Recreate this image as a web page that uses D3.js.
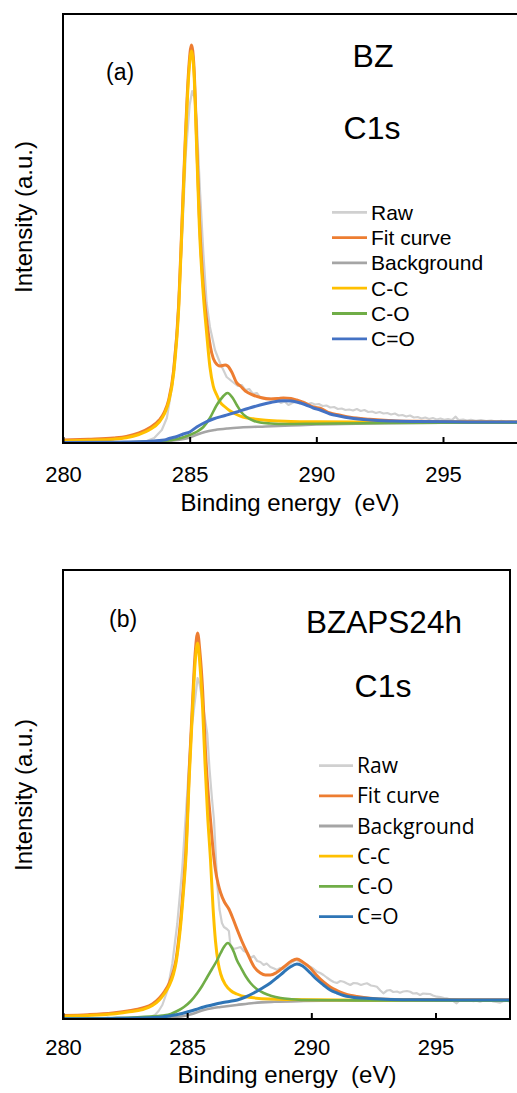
<!DOCTYPE html>
<html><head><meta charset="utf-8">
<script src="https://cdn.jsdelivr.net/npm/d3@7"></script>
<style>
body{margin:0;background:#fff}
svg{display:block}
text{font-family:"Liberation Sans",Arial,sans-serif;fill:#000}
</style>
</head><body>
<svg id="c" width="517" height="1093"></svg>
<script>
// ---------------- DATA ----------------
const xTicks = [280, 285, 290, 295];
const seriesNames = ["Raw", "Fit curve", "Background", "C-C", "C-O", "C=O"];

// Panel (a) BZ  — [binding energy (eV), intensity (a.u.)]
const a_raw = [[280,0.8],[280.4,0.3],[280.8,1.0],[281.2,0.4],[281.6,0.9],[282,0.5],[282.4,1.1],[282.8,0.7],[283.1,1.3],[283.3,2],[283.6,5],[283.9,13],[284.1,25],[284.3,56],[284.5,115],[284.7,205],[284.85,290],[285.0,338],[285.1,352],[285.2,345],[285.28,323],[285.4,256],[285.54,190],[285.67,140],[285.8,116],[286.0,93],[286.2,80],[286.46,66],[286.7,61],[286.9,57],[287.05,58],[287.2,53],[287.35,54],[287.5,49],[287.65,50],[287.8,45],[288.0,44],[288.15,45],[288.3,42],[288.45,43],[288.6,40],[288.75,41.5],[288.9,38],[289.05,40],[289.2,41.5],[289.35,39.5],[289.5,41.3],[289.65,39],[289.8,40],[289.95,38.5],[290.1,39],[290.25,37],[290.4,37.5],[290.55,35.5],[290.7,36],[290.85,34],[291.0,34.5],[291.15,33],[291.3,33.5],[291.45,32.5],[291.6,34],[291.75,32],[291.9,33],[292.05,31],[292.2,31.5],[292.35,30],[292.5,31],[292.65,29.5],[292.8,30],[292.95,28.5],[293.1,29.5],[293.25,27.5],[293.4,28],[293.55,26.5],[293.7,27.5],[293.85,25.5],[294.0,26],[294.15,24.5],[294.3,25.5],[294.45,24],[294.6,25],[294.75,23.5],[294.9,24.5],[295.05,23.2],[295.2,24],[295.35,23],[295.5,26.3],[295.62,22.8],[295.8,23.5],[295.95,22.5],[296.1,23.2],[296.3,22.2],[296.5,22.8],[296.7,21.8],[296.9,22.5],[297.1,21.5],[297.3,22.2],[297.5,21.2],[297.7,21.8],[297.85,20.8],[298,20.5]];
const a_fit = [[280,3],[281,3.8],[282,5],[282.5,6.5],[283,10],[283.4,15],[283.8,23],[284.0,31],[284.17,43],[284.37,73],[284.57,140],[284.7,223],[284.83,306],[284.96,373],[285.07,398],[285.17,376],[285.28,300],[285.38,228],[285.54,156],[285.67,123],[285.87,90],[286.0,81],[286.2,77],[286.4,78],[286.5,77],[286.66,71],[286.86,60],[287.0,57],[287.2,52],[287.5,48],[287.8,45.5],[288.17,44],[288.5,44.5],[288.7,45],[289.0,44.5],[289.22,43],[289.6,39.5],[289.88,36],[290.15,34.7],[290.54,30],[290.9,28],[291.33,25.7],[292.1,23.7],[293,22.3],[294,21.7],[296,21.2],[298,21]];
const a_bg = [[280,0.5],[283,1],[284,1.5],[284.5,3],[285,5.5],[285.3,8.5],[285.6,11],[286,13],[286.5,14.5],[287,15.5],[288,16.5],[289,17.5],[290,18.5],[292,19.5],[295,20.3],[298,20.8]];
const a_cc = [[280,2],[281,2.8],[282,3.8],[282.5,5.2],[283,8.5],[283.4,13],[283.8,21],[284.0,29],[284.17,41],[284.37,70],[284.57,136],[284.7,218],[284.83,300],[284.96,367],[285.07,392],[285.17,370],[285.28,292],[285.38,218],[285.54,148],[285.67,110],[285.8,76],[285.93,57],[286.07,48],[286.2,41],[286.4,36],[286.6,32],[286.85,28.5],[287.1,26],[287.5,24.2],[287.9,23],[288.5,22],[289,21.5],[290,21.2],[292,21],[298,20.8]];
const a_co = [[280,0.3],[282,0.6],[283,1],[284,2.2],[284.5,4],[285,8],[285.3,11.5],[285.54,16],[285.8,25],[286.07,38],[286.3,46],[286.49,50],[286.7,45],[286.86,38],[287.05,30.5],[287.25,26],[287.5,22.5],[287.78,20.5],[288.2,19.5],[288.8,19],[290,19.3],[292,19.8],[295,20.2],[298,20.3]];
const a_cdo = [[280,0.5],[282,0.8],[283,1.2],[284,3],[284.22,4.7],[284.5,6.5],[284.75,9],[285,11],[285.28,16],[285.6,20.5],[285.93,24],[286.4,27.5],[286.86,31],[287.3,34.5],[287.78,38],[288.2,40.5],[288.7,42.3],[289.0,42],[289.22,41],[289.55,38.5],[289.88,35],[290.15,33],[290.54,29],[290.9,27],[291.33,25],[292.1,23],[293,22],[294,21.5],[296,21.1],[298,21]];

// Panel (b) BZAPS24h
const b_raw = [[280,1.5],[280.3,0.5],[280.6,1.8],[280.9,-0.5],[281.2,1.2],[281.5,0],[281.8,1.5],[282.1,-0.3],[282.4,1.0],[282.7,0.2],[283.0,1.4],[283.3,1.0],[283.5,2],[283.7,4],[283.85,8],[284.0,14],[284.2,28],[284.4,55],[284.6,95],[284.8,150],[285.0,225],[285.15,285],[285.25,305],[285.33,322],[285.42,341],[285.5,335],[285.6,320],[285.7,303],[285.81,285],[285.9,250],[286.0,220],[286.08,199],[286.15,165],[286.21,135],[286.3,110],[286.4,96],[286.48,92],[286.6,90],[286.68,88],[286.74,74],[286.88,70],[287.02,71],[287.15,72],[287.28,68],[287.42,66.5],[287.55,61],[287.68,63],[287.82,58],[287.95,57],[288.08,54],[288.2,55.5],[288.35,52],[288.5,50.5],[288.62,49],[288.75,51],[288.89,50],[289.02,53],[289.16,55.7],[289.3,58],[289.42,59],[289.55,57],[289.69,55.7],[289.82,54],[289.96,52.3],[290.1,50],[290.23,47.3],[290.36,46],[290.49,44],[290.62,41.5],[290.76,39],[290.9,37],[291.03,36],[291.17,38],[291.3,37.3],[291.44,35.5],[291.57,34],[291.7,36],[291.84,35.7],[292.0,34],[292.12,35],[292.24,35.7],[292.4,33.5],[292.52,33],[292.64,32.3],[292.78,28.5],[292.9,25.7],[293.05,28.5],[293.17,29],[293.3,27],[293.45,27.5],[293.57,26.3],[293.7,27.5],[293.85,28],[293.98,27.3],[294.1,25.5],[294.25,25.8],[294.38,24],[294.5,25.5],[294.65,25.2],[294.78,25],[294.9,23.5],[295.05,22.3],[295.2,21.8],[295.35,21],[295.45,20.7],[295.6,19.5],[295.72,18],[295.85,15.7],[295.98,18.8],[296.12,19.2],[296.25,18],[296.39,19],[296.52,17.8],[296.65,18.3],[296.79,17.3],[296.92,18.4],[297.05,19],[297.19,19],[297.32,17.5],[297.45,17],[297.59,16.3],[297.72,17.8],[297.86,18.2],[298,17.3]];
const b_fit = [[280,3.5],[281,4.3],[282,6],[282.6,8],[283.21,11],[283.6,15],[283.88,21],[284.1,28],[284.28,36],[284.45,48],[284.55,59],[284.65,78],[284.75,102],[284.85,133],[284.95,169],[285.09,252],[285.22,319],[285.32,365],[285.42,386],[285.52,365],[285.62,330],[285.74,266],[285.84,228],[285.94,199],[286.04,170],[286.14,149],[286.25,135],[286.35,126],[286.5,117],[286.68,110],[286.85,100],[287.02,89],[287.2,78],[287.42,66],[287.7,52],[287.95,46],[288.15,44],[288.35,44],[288.6,46.5],[288.89,52],[289.2,58],[289.42,60],[289.65,57],[289.96,51],[290.2,44],[290.49,37],[290.76,32],[291.03,28.5],[291.3,25.7],[291.6,23.5],[291.84,22.5],[292.37,20.8],[293,19.8],[294,19.5],[296,19.3],[298,19.2]];
const b_bg = [[280,0.3],[282,0.5],[284,1],[284.5,2],[284.87,3],[285.2,5],[285.67,9],[286.0,10.8],[286.35,12],[287.0,14],[287.68,16],[288.5,17.2],[289.69,18],[292,18.6],[295,18.9],[298,19]];
const b_cc = [[280,2.8],[281,3.5],[282,5],[282.6,7],[283.21,9.5],[283.6,13.5],[283.88,19],[284.1,26],[284.28,33.5],[284.45,45],[284.55,56],[284.65,74],[284.75,97],[284.85,127],[284.95,162],[285.09,245],[285.22,311],[285.32,356],[285.42,376],[285.52,352],[285.62,312],[285.72,255],[285.82,205],[285.94,159],[286.04,112],[286.14,78],[286.25,56],[286.35,45],[286.55,34],[286.75,28.5],[287.0,25],[287.42,22],[288.35,20],[290,19.2],[293,18.8],[298,18.5]];
const b_co = [[280,0.5],[282,1],[283,1.8],[283.5,2.5],[284.0,3.5],[284.34,5],[284.6,8],[284.87,12],[285.15,18],[285.41,26],[285.6,33],[285.81,42],[286.0,50],[286.21,59],[286.35,66],[286.48,72],[286.64,76],[286.76,73],[286.88,67],[287.0,59],[287.15,52],[287.35,43],[287.55,36],[287.8,30],[288.08,26],[288.4,23],[288.76,21],[289.2,19.8],[289.69,19],[291,18.7],[294,18.5],[298,18.3]];
const b_cdo = [[280,0.3],[282,0.6],[283,1],[284,2],[284.34,3.3],[284.7,5],[285.0,7],[285.35,9.5],[285.67,12],[286.0,14],[286.35,16],[286.7,17.5],[287.02,19],[287.35,22],[287.68,26],[288.0,30.5],[288.35,36],[288.65,42],[288.89,47],[289.15,52],[289.42,55],[289.65,53],[289.96,46],[290.2,40],[290.49,34],[290.76,29],[291.03,26],[291.3,23.5],[291.6,22],[291.84,21.2],[292.37,20.5],[293,19.8],[294,19.3],[296,19],[298,19]];

// ---------------- DRAWING ----------------
const svg = d3.select("#c");

const panels = [
  {id:"a", series:[a_raw,a_fit,a_bg,a_cc,a_co,a_cdo], yMax:429,
   box:{l:63,r:519,t:14,b:443}, cdo:"#4472c4",
   tag:{t:"(a)",x:106,y:80,fs:23},
   name:{t:"BZ",x:373,y:67,fs:32}, core:{t:"C1s",x:372,y:139,fs:32},
   tickY:481.5, xTitle:{x:290,y:511}, yTitle:{x:32,y:217},
   leg:{x1:332,x2:367,tx:371,y0:212.3,dy:25.3,fs:21,font:"Liberation Sans, Arial, sans-serif"}},
  {id:"b", series:[b_raw,b_fit,b_bg,b_cc,b_co,b_cdo], yMax:449,
   box:{l:63,r:510,t:570,b:1019}, cdo:"#2e75b6",
   tag:{t:"(b)",x:109,y:627,fs:23},
   name:{t:"BZAPS24h",x:384,y:633,fs:31.5}, core:{t:"C1s",x:383,y:697,fs:32},
   tickY:1055, xTitle:{x:287,y:1083}, yTitle:{x:32,y:795},
   leg:{x1:319,x2:353,tx:357,y0:765.6,dy:30.2,fs:21,font:"'Open Sans', Arial, sans-serif"}}
];

panels.forEach(p => {
  const colors = ["#d0d0d0","#ed7d31","#a5a5a5","#ffc000","#70ad47",p.cdo];
  const widths = [2.2,3,2.6,3,2.6,3];
  const x = d3.scaleLinear().domain([280,298]).range([p.box.l,p.box.r]);
  const y = d3.scaleLinear().domain([0,p.yMax]).range([p.box.b,p.box.t]);
  const g = svg.append("g");

  g.append("clipPath").attr("id","clip"+p.id).append("rect")
    .attr("x",p.box.l).attr("y",p.box.t)
    .attr("width",p.box.r-p.box.l).attr("height",p.box.b-p.box.t);

  const line = d3.line().x(d=>x(d[0])).y(d=>y(d[1]));
  const gl = g.append("g").attr("clip-path","url(#clip"+p.id+")");
  p.series.forEach((s,i) => {
    gl.append("path").datum(s)
      .attr("d", line.curve(i===0 ? d3.curveLinear : d3.curveMonotoneX))
      .attr("fill","none").attr("stroke",colors[i]).attr("stroke-width",widths[i])
      .attr("stroke-linejoin","round").attr("stroke-linecap","round");
  });

  // frame
  g.append("rect").attr("x",p.box.l).attr("y",p.box.t)
    .attr("width",p.box.r-p.box.l).attr("height",p.box.b-p.box.t)
    .attr("fill","none").attr("stroke","#000").attr("stroke-width",2);

  // x axis with inner ticks
  const ax = g.append("g").attr("transform",`translate(0,${p.box.b})`)
    .call(d3.axisBottom(x).tickValues(xTicks).tickSizeInner(-6).tickSizeOuter(0).tickFormat(d3.format("d")));
  ax.select(".domain").remove();
  ax.selectAll(".tick line").attr("stroke","#000").attr("stroke-width",2);
  ax.selectAll(".tick text").attr("y",p.tickY-p.box.b).attr("dy",null)
    .attr("font-size",22).attr("font-family","Liberation Sans, Arial, sans-serif").attr("fill","#000");

  // titles
  g.append("text").attr("x",p.xTitle.x).attr("y",p.xTitle.y).attr("text-anchor","middle")
    .attr("font-size",24).attr("xml:space","preserve").text("Binding energy  (eV)");
  g.append("text").attr("transform",`translate(${p.yTitle.x},${p.yTitle.y}) rotate(-90)`)
    .attr("text-anchor","middle").attr("font-size",24).text("Intensity (a.u.)");

  g.append("text").attr("x",p.tag.x).attr("y",p.tag.y).attr("font-size",p.tag.fs).text(p.tag.t);
  g.append("text").attr("x",p.name.x).attr("y",p.name.y).attr("text-anchor","middle").attr("font-size",p.name.fs).text(p.name.t);
  g.append("text").attr("x",p.core.x).attr("y",p.core.y).attr("text-anchor","middle").attr("font-size",p.core.fs).text(p.core.t);

  // legend
  const lg = g.append("g");
  seriesNames.forEach((n,i) => {
    const yy = p.leg.y0 + i*p.leg.dy;
    lg.append("line").attr("x1",p.leg.x1).attr("x2",p.leg.x2).attr("y1",yy).attr("y2",yy)
      .attr("stroke",colors[i]).attr("stroke-width",2.8);
    lg.append("text").attr("x",p.leg.tx).attr("y",yy+0.36*p.leg.fs)
      .attr("font-size",p.leg.fs).style("font-family",p.leg.font).text(n);
  });
});
</script>
</body></html>
